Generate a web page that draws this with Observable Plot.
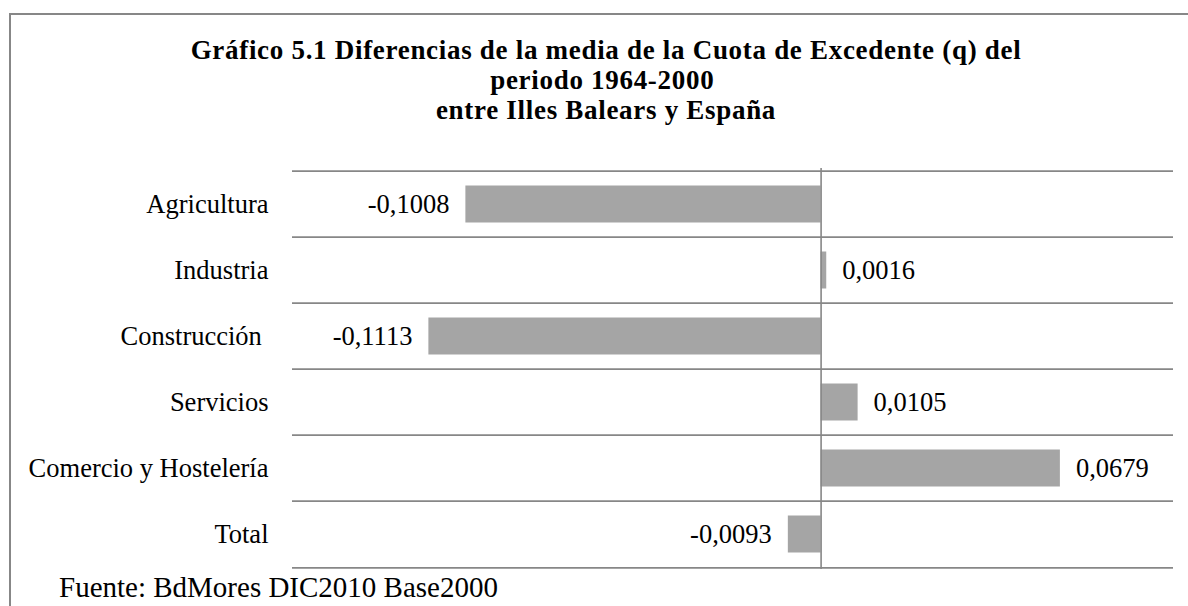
<!DOCTYPE html>
<html>
<head>
<meta charset="utf-8">
<script src="https://cdn.jsdelivr.net/npm/d3@7"></script>
<script src="https://cdn.jsdelivr.net/npm/@observablehq/plot@0.6"></script>
<style>
  html, body { margin: 0; padding: 0; background: #fff; overflow: hidden; }
  #wrap { position: relative; width: 1188px; height: 606px; overflow: hidden; font-family: "Liberation Serif", "Times New Roman", serif; color: #000; }
  #frame { position: absolute; left: 9px; top: 13px; width: 1300px; height: 700px; border-top: 2px solid #878787; border-left: 2px solid #878787; }
  #title { position: absolute; left: 0; top: 35px; width: 1212px; text-align: center; font-weight: bold; font-size: 27px; letter-spacing: 0.7px; line-height: 30px; }
  #chart { position: absolute; left: 0; top: 140px; }
  #source { position: absolute; left: 59px; top: 573px; font-size: 29px; line-height: 29px; white-space: nowrap; }
</style>
</head>
<body>
<div id="wrap">
  <div id="frame"></div>
  <div id="title">
    <div>Gráfico 5.1 Diferencias de la media de la Cuota de Excedente (q) del</div>
    <div>periodo 1964-2000&nbsp;</div>
    <div>entre Illes Balears y España</div>
  </div>
  <div id="chart"></div>
  <div id="source">Fuente: BdMores DIC2010 Base2000</div>
</div>
<script>
const categories = ["Agricultura", "Industria", "Construcción ", "Servicios", "Comercio y Hostelería", "Total"];
const values = [-0.1008, 0.0016, -0.1113, 0.0105, 0.0679, -0.0093];
const xDomain = [-0.15, 0.1];

const data = categories.map((c, i) => ({category: c, value: values[i]}));

const locale = d3.formatLocale({decimal: ",", thousands: ".", grouping: [3], currency: ["", " €"], minus: "-"});
const fmt = locale.format(".4f");

const W = 1188, H = 435, mT = 28, mB = 6, mL = 292, mR = 15;
const bw = (H - mT - mB) / categories.length;
const gridColor = "#878787";

const chart = Plot.plot({
  width: W,
  height: H,
  marginTop: mT,
  marginBottom: mB,
  marginLeft: mL,
  marginRight: mR,
  x: {domain: xDomain, axis: null},
  y: {domain: categories, padding: 0, axis: null},
  style: {
    fontFamily: "'Liberation Serif', 'Times New Roman', serif",
    fontSize: "26.5px",
    color: "#000",
    background: "transparent",
    overflow: "visible"
  },
  marks: [
    Plot.ruleY(categories, {y: d => d, dy: -bw / 2, stroke: gridColor, strokeWidth: 1.6}),
    Plot.ruleY(categories.slice(-1), {y: d => d, dy: bw / 2, stroke: gridColor, strokeWidth: 1.6}),
    Plot.barX(data, {x: "value", y: "category", fill: "#a5a5a5", insetTop: 14.5, insetBottom: 14.5}),
    Plot.ruleX([0], {stroke: gridColor, strokeWidth: 1.6}),
    Plot.text(data, {filter: d => d.value < 0, x: "value", y: "category", text: d => fmt(d.value), textAnchor: "end", dx: -16.5, fill: "#000"}),
    Plot.text(data, {filter: d => d.value >= 0, x: "value", y: "category", text: d => fmt(d.value), textAnchor: "start", dx: 15.5, fill: "#000"}),
    Plot.axisY({tickSize: 0, tickPadding: 24, label: null, tickFormat: d => d.replace(/ $/, "\u00a0")})
  ]
});

document.getElementById("chart").appendChild(chart);
</script>
</body>
</html>
